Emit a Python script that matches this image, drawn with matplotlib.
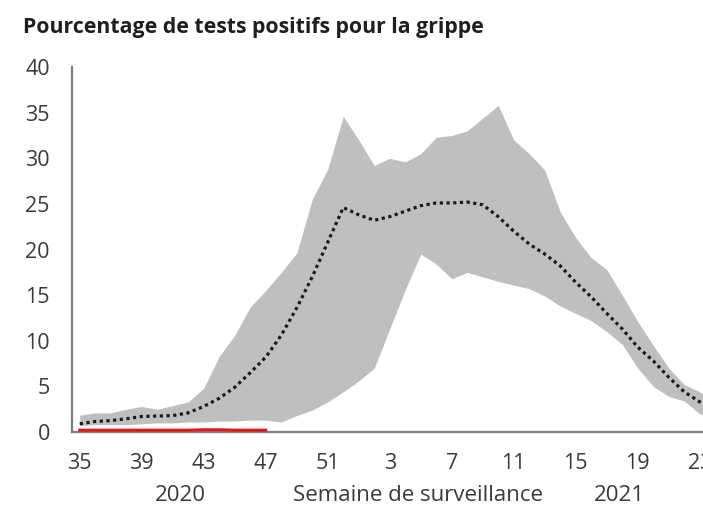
import matplotlib
matplotlib.use("Agg")
import matplotlib.pyplot as plt
import numpy as np

plt.rcParams['font.family'] = ['Open Sans', 'DejaVu Sans']

# Surveillance weeks: 2020 weeks 35-52, then 2021 weeks 1-24
weeks = list(range(35, 53)) + list(range(1, 25))

upper = [1.85, 2.1, 2.1, 2.5, 2.8, 2.5, 2.9, 3.3, 4.8, 8.3, 10.6, 13.7, 15.5, 17.5,
         19.6, 25.5, 28.8, 34.6, 32.0, 29.2, 30.0, 29.6, 30.5, 32.3, 32.5, 33.0,
         34.4, 35.8, 32.0, 30.5, 28.7, 24.1, 21.3, 19.1, 17.8, 15.0, 12.1, 9.5,
         7.0, 5.2, 4.4, 3.5]
lower = [0.7, 0.8, 0.8, 0.8, 0.9, 1.0, 1.0, 1.1, 1.1, 1.2, 1.2, 1.3, 1.3, 1.1,
         1.8, 2.4, 3.3, 4.4, 5.6, 7.0, 11.3, 15.6, 19.5, 18.4, 16.8, 17.5, 17.0,
         16.5, 16.1, 15.7, 14.9, 13.8, 13.0, 12.2, 11.0, 9.6, 7.0, 5.0, 3.9, 3.4,
         2.0, 1.2]
median = [0.9, 1.15, 1.25, 1.45, 1.7, 1.75, 1.8, 2.1, 2.8, 3.7, 4.9, 6.5, 8.2, 10.6,
          13.6, 17.0, 20.8, 24.6, 23.8, 23.2, 23.6, 24.2, 24.8, 25.1, 25.1, 25.2,
          24.9, 23.6, 22.0, 20.6, 19.5, 18.2, 16.4, 14.8, 13.0, 11.3, 9.3, 7.8,
          6.0, 4.4, 3.3, 2.3]
current = [0.2, 0.2, 0.2, 0.2, 0.2, 0.2, 0.2, 0.2, 0.25, 0.25, 0.2, 0.2, 0.2]

yticks = [0, 5, 10, 15, 20, 25, 30, 35, 40]
title = "Pourcentage de tests positifs pour la grippe"
xlabel = "Semaine de surveillance"
year_labels = ["2020", "2021"]

W, H = 703, 508
fig = plt.figure(figsize=(W / 100, H / 100), dpi=100)
fig.patch.set_facecolor('white')

left_px, right_px = 72, 723
bottom_px, top_px = 432, 67
ax = fig.add_axes([left_px / W, (H - bottom_px) / H,
                   (right_px - left_px) / W, (bottom_px - top_px) / H])

x = np.arange(len(weeks))
ax.fill_between(x, lower, upper, color='#bfbfbf', linewidth=0, zorder=1)
ax.plot(x, median, color='#1a1a1a', linewidth=2.3, linestyle=(0, (1, 1.1)), zorder=3)
ax.plot(x[:len(current)], current, color='#e3161b', linewidth=2.2, zorder=4)

ax.set_xlim(-0.5, len(weeks) - 0.5)
ax.set_ylim(0, 40)
ax.set_yticks(yticks)
ax.set_yticklabels([str(v) for v in yticks])
ax.set_xticks(x[::4])
ax.set_xticklabels([str(w) for w in weeks[::4]])

for s in ['top', 'right']:
    ax.spines[s].set_visible(False)
for s in ['left', 'bottom']:
    ax.spines[s].set_color('#7f7f7f')
    ax.spines[s].set_linewidth(1.6)

ax.tick_params(axis='both', length=0, labelsize=15.5, colors='#3a3a3a')
ax.tick_params(axis='y', pad=16)
ax.tick_params(axis='x', pad=15)

fig.text(23 / W, 1 - 27 / H, title, fontsize=15.3, fontweight='bold',
         color='#1f1f1f', ha='left', va='center')
base_y = 1 - 501 / H
fig.text(418 / W, base_y, xlabel, fontsize=16, color='#3a3a3a',
         ha='center', va='baseline')
fig.text(180 / W, base_y, year_labels[0], fontsize=16, color='#3a3a3a',
         ha='center', va='baseline')
fig.text(619 / W, base_y, year_labels[1], fontsize=16, color='#3a3a3a',
         ha='center', va='baseline')

fig.savefig('out.png', dpi=100)
